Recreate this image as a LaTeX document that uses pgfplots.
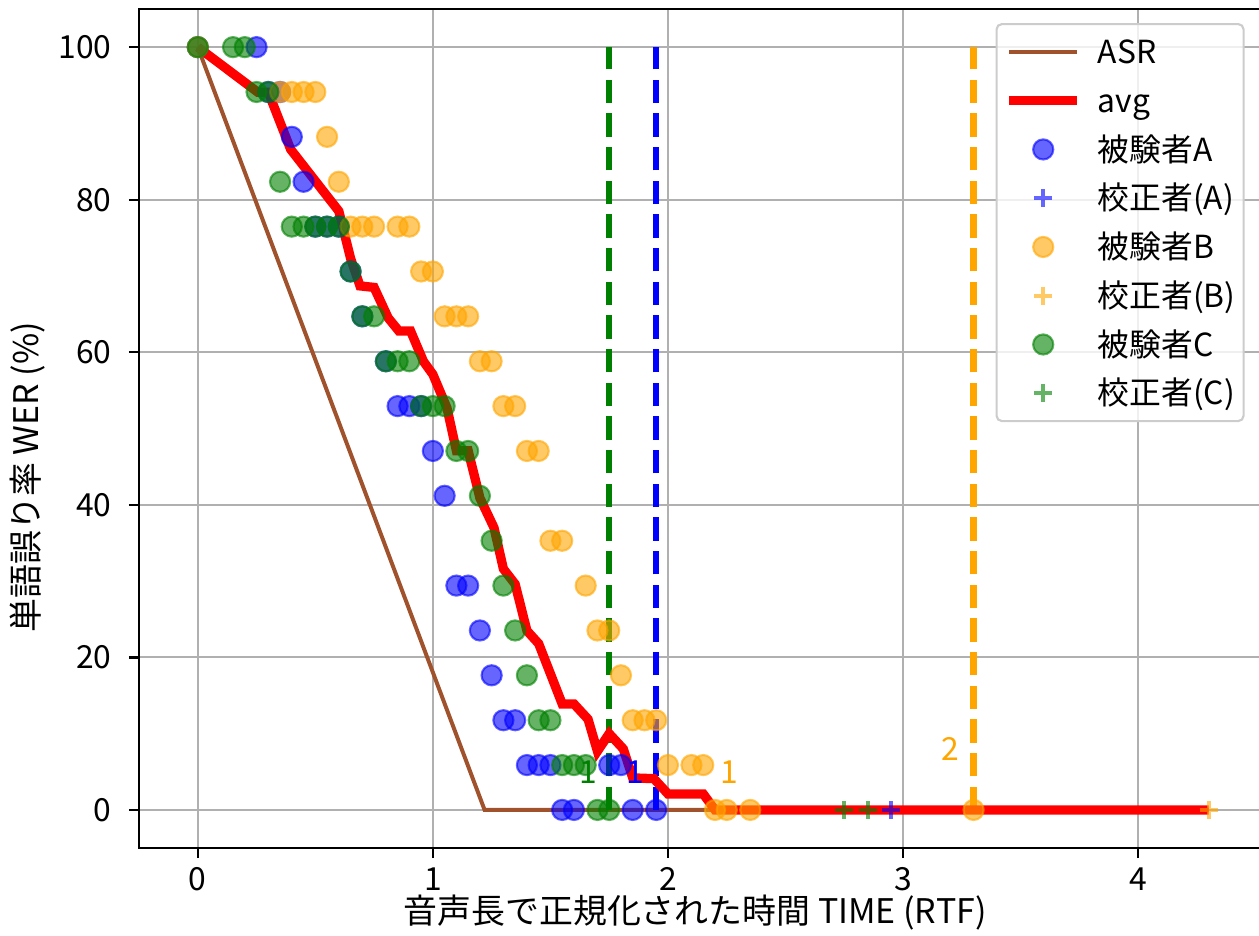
\documentclass[border=0pt]{standalone}
\usepackage{fontspec}
\setmainfont{Noto Sans CJK JP}
\usepackage{pgfplots}
\pgfplotsset{compat=1.18}
\definecolor{mplblue}{RGB}{0,0,255}
\definecolor{mplorange}{RGB}{255,165,0}
\definecolor{mplgreen}{RGB}{0,128,0}
\definecolor{sienna}{RGB}{160,82,45}
\pgfplotsset{
  circA/.style={only marks, mark=*, mark size=3.8pt, mark options={draw=mplblue, fill=mplblue, draw opacity=0.6, fill opacity=0.6, line width=0.8pt}},
  circB/.style={only marks, mark=*, mark size=3.8pt, mark options={draw=mplorange, fill=mplorange, draw opacity=0.6, fill opacity=0.6, line width=0.8pt}},
  circC/.style={only marks, mark=*, mark size=3.8pt, mark options={draw=mplgreen, fill=mplgreen, draw opacity=0.6, fill opacity=0.6, line width=0.8pt}},
  plusA/.style={only marks, mark=+, mark size=3.4pt, mark options={draw=mplblue, draw opacity=0.6, line width=1.4pt}},
  plusB/.style={only marks, mark=+, mark size=3.4pt, mark options={draw=mplorange, draw opacity=0.6, line width=1.4pt}},
  plusC/.style={only marks, mark=+, mark size=3.4pt, mark options={draw=mplgreen, draw opacity=0.6, line width=1.4pt}},
  vdash/.style={line width=2.4pt, dash pattern=on 8.8pt off 3.9pt},
}
\begin{document}
\begin{tikzpicture}
\begin{axis}[
  name=ax,
  scale only axis,
  width=423.4pt, height=316.6pt,
  xmin=-0.25, xmax=4.523, ymin=-5, ymax=105,
  xtick={0,1,2,3,4}, ytick={0,20,40,60,80,100},
  grid=major,
  major grid style={color=black!31, line width=0.75pt},
  axis line style={line width=0.9pt},
  tick align=outside,
  major tick length=3.8pt,
  tick style={line width=0.9pt, color=black},
  xtick pos=left, ytick pos=left,
  /pgf/number format/assume math mode=true,
  tick label style={font=\fontsize{12}{14}\selectfont},
  yticklabel style={xshift=-3pt},
  label style={font=\fontsize{12.8}{15}\selectfont},
  xlabel={音声長で正規化された時間 TIME (RTF)},
  ylabel={単語誤り率 WER (\%)},
  xlabel style={at={(axis description cs:0.4955,-0.0763)}, anchor=center},
  ylabel style={at={(axis description cs:-0.099,0.442)}, anchor=center},
  legend image code/.code={\draw[mark repeat=2,mark phase=2,#1] plot coordinates {(0pt,0pt) (12.85pt,0pt) (25.7pt,0pt)};},
  legend cell align=left,
  legend style={at={(axis description cs:0.9853,0.9833)}, anchor=north east,
    font=\fontsize{12}{14}\selectfont,
    draw=black!20, line width=0.8pt, rounded corners=2pt, fill=white, fill opacity=0.8, text opacity=1, draw opacity=1,
    inner xsep=3pt, inner ysep=3.5pt, row sep=4.4pt, column sep=6pt,
    nodes={inner xsep=0pt, inner ysep=1pt, text height=10.4pt, text depth=1.6pt, anchor=west}},
]
\addlegendimage{sienna, line width=1.5pt}
\addlegendentry{ASR}
\addlegendimage{red, line width=3.5pt}
\addlegendentry{avg}
\addlegendimage{circA}
\addlegendentry{被験者A}
\addlegendimage{plusA}
\addlegendentry{校正者(A)}
\addlegendimage{circB}
\addlegendentry{被験者B}
\addlegendimage{plusB}
\addlegendentry{校正者(B)}
\addlegendimage{circC}
\addlegendentry{被験者C}
\addlegendimage{plusC}
\addlegendentry{校正者(C)}

% ASR
\addplot[sienna, line width=1.5pt, forget plot] coordinates {(0,100) (1.22,0) (4.3,0)};

% subject A
\addplot[circA, forget plot] coordinates {
(0,100) (0.25,100) (0.30,94.12) (0.35,94.12) (0.40,88.24) (0.45,82.35)
(0.50,76.47) (0.55,76.47) (0.60,76.47) (0.65,70.59) (0.70,64.71)
(0.80,58.82) (0.85,52.94) (0.90,52.94) (0.95,52.94) (1.00,47.06)
(1.05,41.18) (1.10,29.41) (1.15,29.41) (1.20,23.53) (1.25,17.65)
(1.30,11.76) (1.35,11.76) (1.40,5.88) (1.45,5.88) (1.50,5.88)
(1.75,5.88) (1.80,5.88) (1.55,0) (1.60,0) (1.85,0) (1.95,0)};

% subject B
\addplot[circB, forget plot] coordinates {
(0,100) (0.35,94.12) (0.40,94.12) (0.45,94.12) (0.50,94.12)
(0.55,88.24) (0.60,82.35) (0.65,76.47) (0.70,76.47) (0.75,76.47)
(0.85,76.47) (0.90,76.47) (0.95,70.59) (1.00,70.59) (1.05,64.71)
(1.10,64.71) (1.15,64.71) (1.20,58.82) (1.25,58.82) (1.30,52.94)
(1.35,52.94) (1.40,47.06) (1.45,47.06) (1.50,35.29) (1.55,35.29)
(1.65,29.41) (1.70,23.53) (1.75,23.53) (1.80,17.65) (1.85,11.76)
(1.90,11.76) (1.95,11.76) (2.00,5.88) (2.10,5.88) (2.15,5.88)
(2.20,0) (2.25,0) (2.35,0) (3.30,0)};

% subject C
\addplot[circC, forget plot] coordinates {
(0,100) (0.15,100) (0.20,100) (0.25,94.12) (0.30,94.12)
(0.35,82.35) (0.40,76.47) (0.45,76.47) (0.50,76.47) (0.55,76.47)
(0.60,76.47) (0.65,70.59) (0.70,64.71) (0.75,64.71) (0.80,58.82)
(0.85,58.82) (0.90,58.82) (0.95,52.94) (1.00,52.94) (1.05,52.94)
(1.10,47.06) (1.15,47.06) (1.20,41.18) (1.25,35.29) (1.30,29.41)
(1.35,23.53) (1.40,17.65) (1.45,11.76) (1.50,11.76) (1.55,5.88)
(1.60,5.88) (1.65,5.88) (1.70,0) (1.75,0)};

% vertical dashed lines
\addplot[mplgreen, vdash, forget plot] coordinates {(1.75,0) (1.75,100)};
\addplot[mplblue, vdash, forget plot] coordinates {(1.95,0) (1.95,100)};
\addplot[mplorange, vdash, forget plot] coordinates {(3.30,0) (3.30,100)};

% avg
\addplot[red, line width=3.5pt, line join=miter, forget plot] coordinates {
(0,100) (0.255,94.1) (0.30,94.1) (0.395,86.6) (0.60,78.5) (0.65,72.3)
(0.69,68.7) (0.75,68.5) (0.81,64.5) (0.855,62.8) (0.905,62.8) (0.96,58.8)
(1.00,57.1) (1.06,52.7) (1.10,47.1) (1.15,47.1) (1.20,40.9) (1.26,37.0)
(1.30,31.6) (1.35,29.6) (1.40,23.5) (1.45,21.8) (1.55,13.9) (1.60,13.9)
(1.66,11.9) (1.70,7.7) (1.75,10.0) (1.81,8.0) (1.85,4.2) (1.94,4.1)
(2.00,2.1) (2.15,2.1) (2.20,0) (4.30,0)};

% correctors
\addplot[plusC, forget plot] coordinates {(2.75,0) (2.85,0)};
\addplot[plusA, forget plot] coordinates {(2.95,0)};
\addplot[plusB, forget plot] coordinates {(4.30,0)};

% labels
\node[text=mplgreen, font=\fontsize{12}{14}\selectfont] at (axis cs:1.66,4.9) {1};
\node[text=mplblue, font=\fontsize{12}{14}\selectfont] at (axis cs:1.86,4.9) {1};
\node[text=mplorange, font=\fontsize{12}{14}\selectfont] at (axis cs:2.26,4.9) {1};
\node[text=mplorange, font=\fontsize{12}{14}\selectfont] at (axis cs:3.20,8.0) {2};
\end{axis}
\pgfresetboundingbox
\path[use as bounding box] ([shift={(-52.45pt,-32.83pt)}]ax.south west) rectangle ([shift={(422.6pt,3.40pt)}]ax.north west);
\end{tikzpicture}
\end{document}
